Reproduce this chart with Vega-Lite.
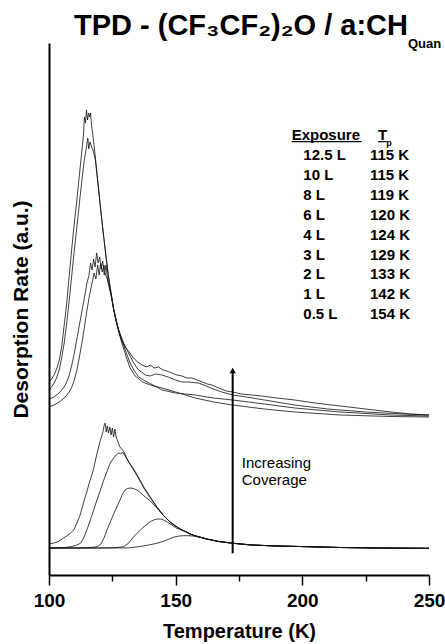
{
  "$schema": "https://vega.github.io/schema/vega-lite/v6.json",
  "width": 380,
  "height": 532,
  "autosize": {"type": "none"},
  "padding": {"left": 49, "top": 43, "right": 16, "bottom": 69},
  "background": "white",
  "config": {"view": {"stroke": null}, "font": "Liberation Sans"},
  "datasets": {
    "curves": [
      {"s":"12.5 L","t":100,"v":193},{"s":"12.5 L","t":101,"v":196},{"s":"12.5 L","t":102,"v":200},{"s":"12.5 L","t":103,"v":206},{"s":"12.5 L","t":104,"v":214},{"s":"12.5 L","t":105,"v":228},{"s":"12.5 L","t":106,"v":250},{"s":"12.5 L","t":107,"v":272},{"s":"12.5 L","t":108,"v":300},{"s":"12.5 L","t":109,"v":327},{"s":"12.5 L","t":110,"v":352},{"s":"12.5 L","t":111,"v":375},{"s":"12.5 L","t":112,"v":400},{"s":"12.5 L","t":113,"v":425},{"s":"12.5 L","t":113.6,"v":440},{"s":"12.5 L","t":114,"v":458},{"s":"12.5 L","t":114.4,"v":452},{"s":"12.5 L","t":114.8,"v":465},{"s":"12.5 L","t":115.2,"v":455},{"s":"12.5 L","t":115.6,"v":462},{"s":"12.5 L","t":116,"v":458},{"s":"12.5 L","t":116.4,"v":462},{"s":"12.5 L","t":116.8,"v":450},{"s":"12.5 L","t":117.3,"v":440},{"s":"12.5 L","t":118.3,"v":418},{"s":"12.5 L","t":119.6,"v":385},{"s":"12.5 L","t":120.6,"v":360},{"s":"12.5 L","t":121.6,"v":338},{"s":"12.5 L","t":122.5,"v":318},{"s":"12.5 L","t":123.5,"v":298},{"s":"12.5 L","t":124.5,"v":282},{"s":"12.5 L","t":125.5,"v":266},{"s":"12.5 L","t":126.5,"v":254},{"s":"12.5 L","t":127.5,"v":245},{"s":"12.5 L","t":128.5,"v":236},{"s":"12.5 L","t":130,"v":228},{"s":"12.5 L","t":131.4,"v":224},{"s":"12.5 L","t":133,"v":218},{"s":"12.5 L","t":134.5,"v":214},{"s":"12.5 L","t":136.7,"v":210},{"s":"12.5 L","t":138.5,"v":208},{"s":"12.5 L","t":140,"v":210},{"s":"12.5 L","t":141.5,"v":207},{"s":"12.5 L","t":143.2,"v":208},{"s":"12.5 L","t":145,"v":205},{"s":"12.5 L","t":146.5,"v":204},{"s":"12.5 L","t":148.5,"v":202},{"s":"12.5 L","t":150.5,"v":200},{"s":"12.5 L","t":152.5,"v":199},{"s":"12.5 L","t":154.5,"v":197},{"s":"12.5 L","t":156.4,"v":197},{"s":"12.5 L","t":158.5,"v":195},{"s":"12.5 L","t":160.5,"v":193},{"s":"12.5 L","t":162.5,"v":191},{"s":"12.5 L","t":164.3,"v":190},{"s":"12.5 L","t":167,"v":187},{"s":"12.5 L","t":170,"v":184},{"s":"12.5 L","t":172.5,"v":183},{"s":"12.5 L","t":176,"v":181},{"s":"12.5 L","t":180,"v":180},{"s":"12.5 L","t":184,"v":179},{"s":"12.5 L","t":190,"v":177},{"s":"12.5 L","t":197,"v":175},{"s":"12.5 L","t":205,"v":172},{"s":"12.5 L","t":215,"v":169},{"s":"12.5 L","t":225,"v":166},{"s":"12.5 L","t":235,"v":163},{"s":"12.5 L","t":243,"v":161},{"s":"12.5 L","t":250,"v":160},

      {"s":"10 L","t":100,"v":185},{"s":"10 L","t":101,"v":188},{"s":"10 L","t":102,"v":192},{"s":"10 L","t":103,"v":197},{"s":"10 L","t":104,"v":205},{"s":"10 L","t":105,"v":217},{"s":"10 L","t":106,"v":232},{"s":"10 L","t":107,"v":252},{"s":"10 L","t":108,"v":275},{"s":"10 L","t":109,"v":300},{"s":"10 L","t":110,"v":325},{"s":"10 L","t":111,"v":348},{"s":"10 L","t":112,"v":372},{"s":"10 L","t":113,"v":395},{"s":"10 L","t":114,"v":416},{"s":"10 L","t":114.8,"v":428},{"s":"10 L","t":115.3,"v":437},{"s":"10 L","t":115.7,"v":426},{"s":"10 L","t":116.2,"v":433},{"s":"10 L","t":116.8,"v":428},{"s":"10 L","t":117.4,"v":425},{"s":"10 L","t":118.3,"v":415},{"s":"10 L","t":119.6,"v":385},{"s":"10 L","t":121.6,"v":338},{"s":"10 L","t":123.5,"v":298},{"s":"10 L","t":125.5,"v":266},{"s":"10 L","t":127.5,"v":245},{"s":"10 L","t":129.5,"v":232},{"s":"10 L","t":131.4,"v":222},{"s":"10 L","t":133,"v":214},{"s":"10 L","t":135,"v":206},{"s":"10 L","t":138,"v":200},{"s":"10 L","t":140,"v":199},{"s":"10 L","t":142,"v":201},{"s":"10 L","t":144.6,"v":200},{"s":"10 L","t":147,"v":198},{"s":"10 L","t":150,"v":195},{"s":"10 L","t":152.4,"v":193},{"s":"10 L","t":155,"v":193},{"s":"10 L","t":159,"v":192},{"s":"10 L","t":162,"v":189},{"s":"10 L","t":165,"v":186},{"s":"10 L","t":168.2,"v":183},{"s":"10 L","t":172.5,"v":180},{"s":"10 L","t":178,"v":178},{"s":"10 L","t":185,"v":175},{"s":"10 L","t":197,"v":170},{"s":"10 L","t":210,"v":166},{"s":"10 L","t":225,"v":163},{"s":"10 L","t":240,"v":161},{"s":"10 L","t":250,"v":160},

      {"s":"8 L","t":100,"v":176},{"s":"8 L","t":102,"v":178},{"s":"8 L","t":104,"v":182},{"s":"8 L","t":106,"v":188},{"s":"8 L","t":107,"v":193},{"s":"8 L","t":108,"v":200},{"s":"8 L","t":109,"v":210},{"s":"8 L","t":110,"v":222},{"s":"8 L","t":111,"v":236},{"s":"8 L","t":112,"v":250},{"s":"8 L","t":113.1,"v":265},{"s":"8 L","t":114,"v":278},{"s":"8 L","t":115,"v":292},{"s":"8 L","t":115.8,"v":300},{"s":"8 L","t":116.4,"v":312},{"s":"8 L","t":117,"v":305},{"s":"8 L","t":117.6,"v":316},{"s":"8 L","t":118.2,"v":308},{"s":"8 L","t":118.8,"v":322},{"s":"8 L","t":119.4,"v":312},{"s":"8 L","t":120,"v":318},{"s":"8 L","t":120.6,"v":306},{"s":"8 L","t":121.2,"v":314},{"s":"8 L","t":121.8,"v":300},{"s":"8 L","t":122.5,"v":310},{"s":"8 L","t":123,"v":298},{"s":"8 L","t":123.6,"v":290},{"s":"8 L","t":124.5,"v":280},{"s":"8 L","t":125.5,"v":266},{"s":"8 L","t":126.5,"v":254},{"s":"8 L","t":127.5,"v":245},{"s":"8 L","t":128.5,"v":236},{"s":"8 L","t":130.1,"v":225},{"s":"8 L","t":132,"v":212},{"s":"8 L","t":133.5,"v":205},{"s":"8 L","t":135.4,"v":198},{"s":"8 L","t":138,"v":194},{"s":"8 L","t":141,"v":190},{"s":"8 L","t":144.6,"v":185},{"s":"8 L","t":150,"v":182},{"s":"8 L","t":157.7,"v":180},{"s":"8 L","t":165,"v":177},{"s":"8 L","t":172.5,"v":175},{"s":"8 L","t":185,"v":171},{"s":"8 L","t":197,"v":167},{"s":"8 L","t":215,"v":163},{"s":"8 L","t":235,"v":160},{"s":"8 L","t":250,"v":159},

      {"s":"6 L","t":100,"v":168},{"s":"6 L","t":102,"v":170},{"s":"6 L","t":104,"v":173},{"s":"6 L","t":106,"v":177},{"s":"6 L","t":108,"v":183},{"s":"6 L","t":109,"v":188},{"s":"6 L","t":110,"v":195},{"s":"6 L","t":111,"v":205},{"s":"6 L","t":112,"v":218},{"s":"6 L","t":113,"v":232},{"s":"6 L","t":114,"v":248},{"s":"6 L","t":115,"v":265},{"s":"6 L","t":116,"v":280},{"s":"6 L","t":117,"v":292},{"s":"6 L","t":117.8,"v":302},{"s":"6 L","t":118.5,"v":296},{"s":"6 L","t":119.2,"v":310},{"s":"6 L","t":119.8,"v":300},{"s":"6 L","t":120.4,"v":312},{"s":"6 L","t":121,"v":303},{"s":"6 L","t":121.7,"v":310},{"s":"6 L","t":122.3,"v":300},{"s":"6 L","t":123,"v":296},{"s":"6 L","t":123.6,"v":290},{"s":"6 L","t":124.5,"v":280},{"s":"6 L","t":125.5,"v":266},{"s":"6 L","t":126.5,"v":254},{"s":"6 L","t":127.5,"v":243},{"s":"6 L","t":129,"v":230},{"s":"6 L","t":130.5,"v":218},{"s":"6 L","t":132,"v":207},{"s":"6 L","t":134,"v":199},{"s":"6 L","t":137,"v":193},{"s":"6 L","t":140,"v":190},{"s":"6 L","t":144.6,"v":187},{"s":"6 L","t":150,"v":183},{"s":"6 L","t":157.7,"v":177},{"s":"6 L","t":165,"v":173},{"s":"6 L","t":172.5,"v":170},{"s":"6 L","t":185,"v":166},{"s":"6 L","t":197,"v":163},{"s":"6 L","t":215,"v":160},{"s":"6 L","t":235,"v":158.5},{"s":"6 L","t":250,"v":158},

      {"s":"4 L","t":100,"v":31},{"s":"4 L","t":102,"v":32},{"s":"4 L","t":104,"v":34},{"s":"4 L","t":105.7,"v":37},{"s":"4 L","t":107,"v":39},{"s":"4 L","t":108.5,"v":42},{"s":"4 L","t":109.8,"v":45},{"s":"4 L","t":111,"v":52},{"s":"4 L","t":112.3,"v":60},{"s":"4 L","t":113.6,"v":72},{"s":"4 L","t":114.8,"v":82},{"s":"4 L","t":116,"v":93},{"s":"4 L","t":117.5,"v":105},{"s":"4 L","t":118.8,"v":120},{"s":"4 L","t":120.3,"v":135},{"s":"4 L","t":121.2,"v":142},{"s":"4 L","t":121.8,"v":150},{"s":"4 L","t":122.2,"v":152},{"s":"4 L","t":122.6,"v":143},{"s":"4 L","t":123,"v":149},{"s":"4 L","t":123.5,"v":142},{"s":"4 L","t":124,"v":148},{"s":"4 L","t":124.5,"v":140},{"s":"4 L","t":125,"v":147},{"s":"4 L","t":125.5,"v":138},{"s":"4 L","t":126,"v":146},{"s":"4 L","t":126.5,"v":138},{"s":"4 L","t":127.2,"v":133},{"s":"4 L","t":128,"v":128},{"s":"4 L","t":129.4,"v":124},{"s":"4 L","t":130.5,"v":118},{"s":"4 L","t":131.5,"v":113},{"s":"4 L","t":133.4,"v":106},{"s":"4 L","t":135.5,"v":97},{"s":"4 L","t":137.4,"v":88},{"s":"4 L","t":140,"v":78},{"s":"4 L","t":142.6,"v":68},{"s":"4 L","t":145,"v":60},{"s":"4 L","t":147.8,"v":53},{"s":"4 L","t":150,"v":49},{"s":"4 L","t":151.8,"v":46},{"s":"4 L","t":153.5,"v":44},{"s":"4 L","t":155.7,"v":41},{"s":"4 L","t":158,"v":39},{"s":"4 L","t":162.3,"v":36},{"s":"4 L","t":167,"v":33.5},{"s":"4 L","t":172.8,"v":31.7},{"s":"4 L","t":180,"v":30},{"s":"4 L","t":190,"v":29},{"s":"4 L","t":199,"v":28.5},{"s":"4 L","t":215,"v":27.5},{"s":"4 L","t":230,"v":27},{"s":"4 L","t":250,"v":26.7},

      {"s":"3 L","t":100,"v":27},{"s":"3 L","t":106,"v":27.5},{"s":"3 L","t":109,"v":28.5},{"s":"3 L","t":111,"v":30},{"s":"3 L","t":112.4,"v":31.7},{"s":"3 L","t":113.5,"v":36},{"s":"3 L","t":114.5,"v":42},{"s":"3 L","t":115.5,"v":49},{"s":"3 L","t":116.3,"v":55},{"s":"3 L","t":117.5,"v":64},{"s":"3 L","t":118.8,"v":74},{"s":"3 L","t":120.3,"v":85},{"s":"3 L","t":121.5,"v":94},{"s":"3 L","t":122.8,"v":103},{"s":"3 L","t":124.2,"v":112},{"s":"3 L","t":125.5,"v":117},{"s":"3 L","t":126.5,"v":120},{"s":"3 L","t":127.5,"v":122},{"s":"3 L","t":128.3,"v":121},{"s":"3 L","t":129,"v":123},{"s":"3 L","t":129.8,"v":120},{"s":"3 L","t":130.5,"v":117},{"s":"3 L","t":131.5,"v":113},{"s":"3 L","t":133.4,"v":105},{"s":"3 L","t":135.5,"v":96},{"s":"3 L","t":137.4,"v":87},{"s":"3 L","t":140,"v":77},{"s":"3 L","t":142.6,"v":68},{"s":"3 L","t":145,"v":60},{"s":"3 L","t":147.8,"v":53},{"s":"3 L","t":150,"v":49},{"s":"3 L","t":151.8,"v":46},{"s":"3 L","t":153.5,"v":44},{"s":"3 L","t":155.7,"v":41},{"s":"3 L","t":158,"v":39},{"s":"3 L","t":162.3,"v":36},{"s":"3 L","t":167,"v":33.5},{"s":"3 L","t":172.8,"v":31.7},{"s":"3 L","t":180,"v":30},{"s":"3 L","t":190,"v":29},{"s":"3 L","t":199,"v":28.5},{"s":"3 L","t":215,"v":27.5},{"s":"3 L","t":230,"v":27},{"s":"3 L","t":250,"v":26.7},

      {"s":"2 L","t":100,"v":27},{"s":"2 L","t":110,"v":27},{"s":"2 L","t":116,"v":27.3},{"s":"2 L","t":119,"v":28.3},{"s":"2 L","t":120.5,"v":31},{"s":"2 L","t":121.7,"v":37},{"s":"2 L","t":122.9,"v":45},{"s":"2 L","t":124.2,"v":53},{"s":"2 L","t":125.5,"v":61},{"s":"2 L","t":126.8,"v":68},{"s":"2 L","t":128.2,"v":76},{"s":"2 L","t":129,"v":81},{"s":"2 L","t":130,"v":85},{"s":"2 L","t":131,"v":86.5},{"s":"2 L","t":132.1,"v":87},{"s":"2 L","t":133.3,"v":86.5},{"s":"2 L","t":134.7,"v":85},{"s":"2 L","t":136.3,"v":82},{"s":"2 L","t":138,"v":78},{"s":"2 L","t":140,"v":74},{"s":"2 L","t":142.6,"v":67},{"s":"2 L","t":145,"v":60},{"s":"2 L","t":147.8,"v":53},{"s":"2 L","t":150,"v":49},{"s":"2 L","t":151.8,"v":46},{"s":"2 L","t":153.5,"v":44},{"s":"2 L","t":155.7,"v":41},{"s":"2 L","t":158,"v":39},{"s":"2 L","t":162.3,"v":36},{"s":"2 L","t":167,"v":33.5},{"s":"2 L","t":172.8,"v":31.7},{"s":"2 L","t":180,"v":30},{"s":"2 L","t":190,"v":29},{"s":"2 L","t":199,"v":28.5},{"s":"2 L","t":215,"v":27.5},{"s":"2 L","t":230,"v":27},{"s":"2 L","t":250,"v":26.7},

      {"s":"1 L","t":100,"v":27},{"s":"1 L","t":120,"v":27},{"s":"1 L","t":126,"v":27.3},{"s":"1 L","t":129.5,"v":28.3},{"s":"1 L","t":131.5,"v":32},{"s":"1 L","t":133,"v":37},{"s":"1 L","t":134.7,"v":41.7},{"s":"1 L","t":136.5,"v":46},{"s":"1 L","t":138.3,"v":50},{"s":"1 L","t":140,"v":53.3},{"s":"1 L","t":141.3,"v":55},{"s":"1 L","t":142.6,"v":56},{"s":"1 L","t":144,"v":56},{"s":"1 L","t":145.2,"v":55},{"s":"1 L","t":146.7,"v":53},{"s":"1 L","t":148.5,"v":50},{"s":"1 L","t":150.5,"v":46.7},{"s":"1 L","t":151.8,"v":45.5},{"s":"1 L","t":153.5,"v":43.5},{"s":"1 L","t":155.7,"v":41},{"s":"1 L","t":158,"v":39},{"s":"1 L","t":162.3,"v":36},{"s":"1 L","t":167,"v":33.5},{"s":"1 L","t":172.8,"v":31.7},{"s":"1 L","t":180,"v":30},{"s":"1 L","t":190,"v":29},{"s":"1 L","t":199,"v":28.5},{"s":"1 L","t":215,"v":27.5},{"s":"1 L","t":230,"v":27},{"s":"1 L","t":250,"v":26.7},

      {"s":"0.5 L","t":100,"v":27},{"s":"0.5 L","t":125,"v":27},{"s":"0.5 L","t":132,"v":27.2},{"s":"0.5 L","t":136,"v":28.5},{"s":"0.5 L","t":139,"v":29.8},{"s":"0.5 L","t":142.6,"v":31.7},{"s":"0.5 L","t":145,"v":33.5},{"s":"0.5 L","t":147,"v":35.5},{"s":"0.5 L","t":149,"v":37.7},{"s":"0.5 L","t":151,"v":38.8},{"s":"0.5 L","t":153,"v":39.3},{"s":"0.5 L","t":155,"v":39.3},{"s":"0.5 L","t":156.8,"v":39},{"s":"0.5 L","t":158.3,"v":38.3},{"s":"0.5 L","t":160,"v":37.5},{"s":"0.5 L","t":162.3,"v":36},{"s":"0.5 L","t":167,"v":33.5},{"s":"0.5 L","t":172.8,"v":31.7},{"s":"0.5 L","t":180,"v":30},{"s":"0.5 L","t":190,"v":29},{"s":"0.5 L","t":199,"v":28.5},{"s":"0.5 L","t":215,"v":27.5},{"s":"0.5 L","t":230,"v":27},{"s":"0.5 L","t":250,"v":26.7}
    ],
    "table": [
      {"e":"12.5 L","tp":"115 K","v":415},
      {"e":"10 L","tp":"115 K","v":395.1},
      {"e":"8 L","tp":"119 K","v":375.2},
      {"e":"6 L","tp":"120 K","v":355.3},
      {"e":"4 L","tp":"124 K","v":335.4},
      {"e":"3 L","tp":"129 K","v":315.5},
      {"e":"2 L","tp":"133 K","v":295.6},
      {"e":"1 L","tp":"142 K","v":275.7},
      {"e":"0.5 L","tp":"154 K","v":255.8}
    ]
  },
  "layer": [
    {
      "data": {"name": "curves"},
      "mark": {"type": "line", "stroke": "#111", "strokeWidth": 0.8},
      "encoding": {
        "x": {
          "field": "t", "type": "quantitative",
          "scale": {"domain": [100, 250], "nice": false},
          "axis": {
            "values": [100, 125, 150, 175, 200, 225, 250],
            "labelExpr": "datum.value % 50 === 0 ? datum.label : ''",
            "tickSize": {"condition": {"test": "datum.value % 50 === 0", "value": 10}, "value": 6},
            "tickWidth": 1.5, "tickColor": "#000",
            "domainWidth": 2, "domainColor": "#000",
            "labelFont": "Liberation Sans", "labelFontWeight": "bold", "labelFontSize": 19, "labelColor": "#000",
            "labelPadding": 6, "labelFlush": false, "labelOverlap": false,
            "grid": false,
            "title": "Temperature (K)",
            "titleFont": "Liberation Sans", "titleFontWeight": "bold", "titleFontSize": 20, "titleColor": "#000",
            "titlePadding": 11
          }
        },
        "y": {
          "field": "v", "type": "quantitative",
          "scale": {"domain": [0, 532], "nice": false, "zero": false},
          "axis": {
            "ticks": false, "labels": false, "grid": false,
            "domainWidth": 2, "domainColor": "#000",
            "title": "Desorption Rate (a.u.)",
            "titleFont": "Liberation Sans", "titleFontWeight": "bold", "titleFontSize": 21, "titleColor": "#000",
            "titlePadding": 18
          }
        },
        "detail": {"field": "s"}
      }
    },
    {
      "data": {"values": [{"t": 172.5, "v": 21.7, "v2": 203}]},
      "mark": {"type": "rule", "stroke": "#000", "strokeWidth": 2},
      "encoding": {
        "x": {"field": "t", "type": "quantitative"},
        "y": {"field": "v", "type": "quantitative"},
        "y2": {"field": "v2"}
      }
    },
    {
      "data": {"values": [{"t": 172.5, "v": 204.5}]},
      "mark": {"type": "point", "shape": "triangle-up", "size": 40, "filled": true, "fill": "#000", "stroke": null, "opacity": 1},
      "encoding": {
        "x": {"field": "t", "type": "quantitative"},
        "y": {"field": "v", "type": "quantitative"}
      }
    },
    {
      "data": {"values": [{"txt": "Increasing", "t": 176.1, "v": 106.7}, {"txt": "Coverage", "t": 176.1, "v": 90.5}]},
      "mark": {"type": "text", "align": "left", "baseline": "alphabetic", "font": "Liberation Sans", "fontSize": 15, "color": "#000"},
      "encoding": {
        "x": {"field": "t", "type": "quantitative"},
        "y": {"field": "v", "type": "quantitative"},
        "text": {"field": "txt"}
      }
    },
    {
      "data": {"name": "table"},
      "mark": {"type": "text", "align": "left", "baseline": "alphabetic", "font": "Liberation Sans", "fontWeight": "bold", "fontSize": 15, "color": "#000"},
      "encoding": {
        "x": {"datum": 200.4, "type": "quantitative"},
        "y": {"field": "v", "type": "quantitative"},
        "text": {"field": "e"}
      }
    },
    {
      "data": {"name": "table"},
      "mark": {"type": "text", "align": "left", "baseline": "alphabetic", "font": "Liberation Sans", "fontWeight": "bold", "fontSize": 15, "color": "#000"},
      "encoding": {
        "x": {"datum": 226.7, "type": "quantitative"},
        "y": {"field": "v", "type": "quantitative"},
        "text": {"field": "tp"}
      }
    },
    {
      "data": {"values": [
        {"txt": "Exposure", "t": 195.8, "v": 435},
        {"txt": "T", "t": 229.9, "v": 435}
      ]},
      "mark": {"type": "text", "align": "left", "baseline": "alphabetic", "font": "Liberation Sans", "fontWeight": "bold", "fontSize": 15, "color": "#000"},
      "encoding": {
        "x": {"field": "t", "type": "quantitative"},
        "y": {"field": "v", "type": "quantitative"},
        "text": {"field": "txt"}
      }
    },
    {
      "data": {"values": [{"txt": "p", "t": 233.1, "v": 429.5}]},
      "mark": {"type": "text", "align": "left", "baseline": "alphabetic", "font": "Liberation Sans", "fontWeight": "bold", "fontSize": 9, "color": "#000"},
      "encoding": {
        "x": {"field": "t", "type": "quantitative"},
        "y": {"field": "v", "type": "quantitative"},
        "text": {"field": "txt"}
      }
    },
    {
      "data": {"values": [{"t": 195.8, "t2": 223.4, "v": 433.3}, {"t": 229.9, "t2": 233.3, "v": 433.3}]},
      "mark": {"type": "rule", "stroke": "#000", "strokeWidth": 1.2},
      "encoding": {
        "x": {"field": "t", "type": "quantitative"},
        "x2": {"field": "t2"},
        "y": {"field": "v", "type": "quantitative"}
      }
    },
    {
      "data": {"values": [{"txt": "TPD - (CF₃CF₂)₂O / a:CH", "t": 241.7, "v": 540}]},
      "mark": {"type": "text", "align": "right", "baseline": "alphabetic", "font": "Liberation Sans", "fontWeight": "bold", "fontSize": 29, "color": "#000"},
      "encoding": {
        "x": {"field": "t", "type": "quantitative"},
        "y": {"field": "v", "type": "quantitative"},
        "text": {"field": "txt"}
      }
    },
    {
      "data": {"values": [{"txt": "Quan", "t": 241.7, "v": 527}]},
      "mark": {"type": "text", "align": "left", "baseline": "alphabetic", "font": "Liberation Sans", "fontWeight": "bold", "fontSize": 13, "color": "#000"},
      "encoding": {
        "x": {"field": "t", "type": "quantitative"},
        "y": {"field": "v", "type": "quantitative"},
        "text": {"field": "txt"}
      }
    }
  ]
}
